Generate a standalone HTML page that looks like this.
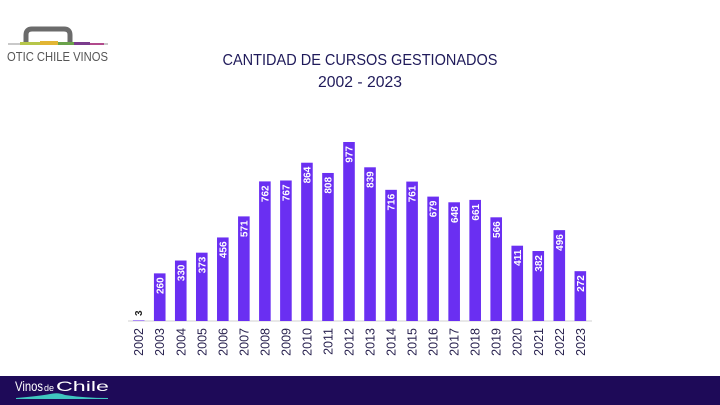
<!DOCTYPE html>
<html><head><meta charset="utf-8"><style>
html,body{margin:0;padding:0;background:#fff;}
svg{display:block;font-family:"Liberation Sans",sans-serif;}
.b{fill:#6a2ff2}
.v{font-size:10px;font-weight:bold;fill:#fff;text-anchor:end}
.y{font-size:12.5px;fill:#2a2350;text-anchor:end}
</style></head><body>
<svg width="720" height="405" viewBox="0 0 720 405" xmlns="http://www.w3.org/2000/svg">
<rect width="720" height="405" fill="#fff"/>
<path d="M26 43 V35 Q26 29 32 29 H64 Q70 29 70 35 V43" fill="none" stroke="#6b6b6b" stroke-width="5"/>
<rect x="8" y="43" width="100" height="2" fill="#c9c9c9"/>
<rect x="20" y="42" width="20" height="3" fill="#b6c64a"/>
<rect x="40" y="41" width="18" height="4" fill="#e2b534"/>
<rect x="58" y="42" width="16" height="3" fill="#6aa24a"/>
<rect x="74" y="42" width="16" height="3" fill="#7a3c8c"/>
<rect x="90" y="43" width="14" height="2" fill="#b14a8c"/>
<text x="7" y="61" font-size="12.5" fill="#555" textLength="101" lengthAdjust="spacingAndGlyphs">OTIC CHILE VINOS</text>
<text x="360" y="65" font-size="16" fill="#1f1a5a" text-anchor="middle" textLength="275" lengthAdjust="spacingAndGlyphs">CANTIDAD DE CURSOS GESTIONADOS</text>
<text x="360" y="87" font-size="16" fill="#1f1a5a" text-anchor="middle" textLength="84" lengthAdjust="spacingAndGlyphs">2002 - 2023</text>
<line x1="128" y1="321" x2="592" y2="321" stroke="#d0d0d0" stroke-width="1"/>

<g transform="translate(138.7,0)"><rect class="b" x="-5.8" y="320.45" width="11.6" height="0.55"/><text transform="translate(3.5,316) rotate(-90)" font-size="10" font-weight="bold" fill="#222">3</text><text class="y" transform="translate(4.5,328) rotate(-90)">2002</text></g>
<g transform="translate(159.73,0)"><rect class="b" x="-5.8" y="273.37" width="11.6" height="47.63"/><text class="v" transform="translate(3.6,277.37) rotate(-90)">260</text><text class="y" transform="translate(4.5,328) rotate(-90)">2003</text></g>
<g transform="translate(180.76,0)"><rect class="b" x="-5.8" y="260.54" width="11.6" height="60.46"/><text class="v" transform="translate(3.6,264.54) rotate(-90)">330</text><text class="y" transform="translate(4.5,328) rotate(-90)">2004</text></g>
<g transform="translate(201.79,0)"><rect class="b" x="-5.8" y="252.67" width="11.6" height="68.33"/><text class="v" transform="translate(3.6,256.67) rotate(-90)">373</text><text class="y" transform="translate(4.5,328) rotate(-90)">2005</text></g>
<g transform="translate(222.82,0)"><rect class="b" x="-5.8" y="237.46" width="11.6" height="83.54"/><text class="v" transform="translate(3.6,241.46) rotate(-90)">456</text><text class="y" transform="translate(4.5,328) rotate(-90)">2006</text></g>
<g transform="translate(243.85,0)"><rect class="b" x="-5.8" y="216.39" width="11.6" height="104.61"/><text class="v" transform="translate(3.6,220.39) rotate(-90)">571</text><text class="y" transform="translate(4.5,328) rotate(-90)">2007</text></g>
<g transform="translate(264.88,0)"><rect class="b" x="-5.8" y="181.40" width="11.6" height="139.60"/><text class="v" transform="translate(3.6,185.40) rotate(-90)">762</text><text class="y" transform="translate(4.5,328) rotate(-90)">2008</text></g>
<g transform="translate(285.91,0)"><rect class="b" x="-5.8" y="180.49" width="11.6" height="140.51"/><text class="v" transform="translate(3.6,184.49) rotate(-90)">767</text><text class="y" transform="translate(4.5,328) rotate(-90)">2009</text></g>
<g transform="translate(306.94,0)"><rect class="b" x="-5.8" y="162.72" width="11.6" height="158.28"/><text class="v" transform="translate(3.6,166.72) rotate(-90)">864</text><text class="y" transform="translate(4.5,328) rotate(-90)">2010</text></g>
<g transform="translate(327.97,0)"><rect class="b" x="-5.8" y="172.97" width="11.6" height="148.03"/><text class="v" transform="translate(3.6,176.97) rotate(-90)">808</text><text class="y" transform="translate(4.5,328) rotate(-90)">2011</text></g>
<g transform="translate(349,0)"><rect class="b" x="-5.8" y="142.01" width="11.6" height="178.99"/><text class="v" transform="translate(3.6,146.01) rotate(-90)">977</text><text class="y" transform="translate(4.5,328) rotate(-90)">2012</text></g>
<g transform="translate(370.03,0)"><rect class="b" x="-5.8" y="167.30" width="11.6" height="153.70"/><text class="v" transform="translate(3.6,171.30) rotate(-90)">839</text><text class="y" transform="translate(4.5,328) rotate(-90)">2013</text></g>
<g transform="translate(391.06,0)"><rect class="b" x="-5.8" y="189.83" width="11.6" height="131.17"/><text class="v" transform="translate(3.6,193.83) rotate(-90)">716</text><text class="y" transform="translate(4.5,328) rotate(-90)">2014</text></g>
<g transform="translate(412.09,0)"><rect class="b" x="-5.8" y="181.58" width="11.6" height="139.42"/><text class="v" transform="translate(3.6,185.58) rotate(-90)">761</text><text class="y" transform="translate(4.5,328) rotate(-90)">2015</text></g>
<g transform="translate(433.12,0)"><rect class="b" x="-5.8" y="196.61" width="11.6" height="124.39"/><text class="v" transform="translate(3.6,200.61) rotate(-90)">679</text><text class="y" transform="translate(4.5,328) rotate(-90)">2016</text></g>
<g transform="translate(454.15,0)"><rect class="b" x="-5.8" y="202.29" width="11.6" height="118.71"/><text class="v" transform="translate(3.6,206.29) rotate(-90)">648</text><text class="y" transform="translate(4.5,328) rotate(-90)">2017</text></g>
<g transform="translate(475.18,0)"><rect class="b" x="-5.8" y="199.90" width="11.6" height="121.10"/><text class="v" transform="translate(3.6,203.90) rotate(-90)">661</text><text class="y" transform="translate(4.5,328) rotate(-90)">2018</text></g>
<g transform="translate(496.21,0)"><rect class="b" x="-5.8" y="217.31" width="11.6" height="103.69"/><text class="v" transform="translate(3.6,221.31) rotate(-90)">566</text><text class="y" transform="translate(4.5,328) rotate(-90)">2019</text></g>
<g transform="translate(517.24,0)"><rect class="b" x="-5.8" y="245.70" width="11.6" height="75.30"/><text class="v" transform="translate(3.6,249.70) rotate(-90)">411</text><text class="y" transform="translate(4.5,328) rotate(-90)">2020</text></g>
<g transform="translate(538.27,0)"><rect class="b" x="-5.8" y="251.02" width="11.6" height="69.98"/><text class="v" transform="translate(3.6,255.02) rotate(-90)">382</text><text class="y" transform="translate(4.5,328) rotate(-90)">2021</text></g>
<g transform="translate(559.30,0)"><rect class="b" x="-5.8" y="230.13" width="11.6" height="90.87"/><text class="v" transform="translate(3.6,234.13) rotate(-90)">496</text><text class="y" transform="translate(4.5,328) rotate(-90)">2022</text></g>
<g transform="translate(580.33,0)"><rect class="b" x="-5.8" y="271.17" width="11.6" height="49.83"/><text class="v" transform="translate(3.6,275.17) rotate(-90)">272</text><text class="y" transform="translate(4.5,328) rotate(-90)">2023</text></g>

<rect x="0" y="376" width="720" height="29" fill="#1e0a58"/>
<text x="15" y="391" font-size="14" fill="#fff" textLength="28" lengthAdjust="spacingAndGlyphs">Vinos</text>
<text x="44" y="391" font-size="9" fill="#fff">de</text>
<text x="56" y="391" font-size="14" fill="#fff" textLength="53" lengthAdjust="spacingAndGlyphs">Chile</text>
<path d="M16 398 Q40 396 50 394 Q58 392 65 395 Q85 398 108 398 L108 399 L16 399 Z" fill="#3fc7c0"/>
</svg>
</body></html>
